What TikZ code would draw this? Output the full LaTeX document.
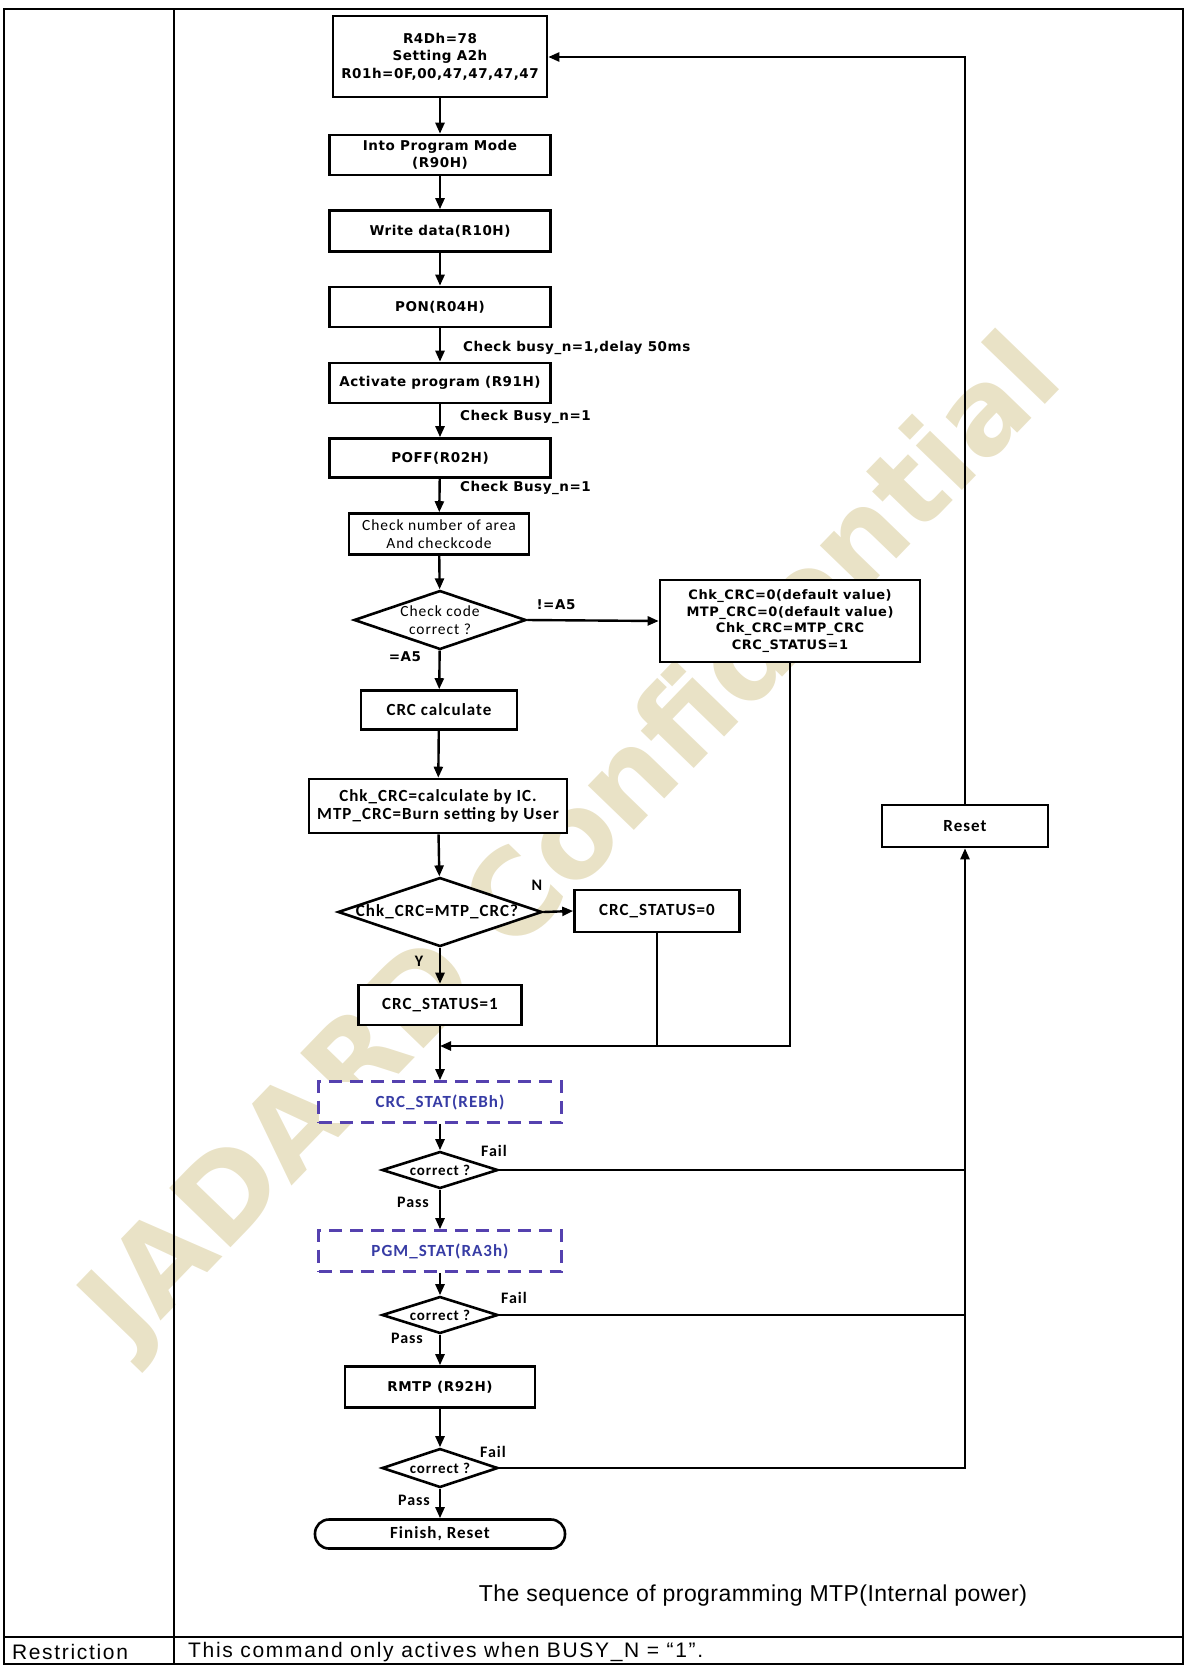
\documentclass[tikz,border=0pt]{standalone}
\usepackage{fontspec}
\setmainfont{DejaVu Sans}
\newfontfamily\dvs[LetterSpace=4]{DejaVu Sans}
\newfontfamily\calib[LetterSpace=6]{Carlito}
\newfontfamily\libsans[LetterSpace=8]{Liberation Sans}
\newfontfamily\libcap[LetterSpace=2]{Liberation Sans}
\usetikzlibrary{shapes.geometric,arrows.meta}
\definecolor{dashc}{RGB}{85,65,175}
\definecolor{dtext}{RGB}{55,60,165}
\definecolor{wm}{RGB}{233,226,198}
\tikzset{
  box/.style={draw, line width=2.6pt, fill=white, inner sep=0pt, align=center,
    font=\dvs\bfseries\fontsize{13.5}{17.5}\selectfont},
  cbox/.style={box, font=\calib\bfseries\fontsize{17}{18}\selectfont},
  crbox/.style={box, font=\calib\fontsize{15.5}{18}\selectfont},
  dbox/.style={cbox, draw=dashc, text=dtext, dash pattern=on 13pt off 8pt},
  dia/.style={draw, diamond, line width=2.6pt, fill=white, inner sep=0pt},
  dtxt/.style={inner sep=0pt, align=center, font=\calib\bfseries\fontsize{15}{18}\selectfont},
  arr/.style={line width=2.4pt, -{Triangle[length=11pt,width=9pt]}},
  ln/.style={line width=2.4pt},
  lab/.style={inner sep=0pt, font=\dvs\bfseries\fontsize{13.5}{15}\selectfont},
  clab/.style={inner sep=0pt, font=\calib\bfseries\fontsize{16}{16}\selectfont},
  tbl/.style={line width=1.8pt}
}
\begin{document}
\begin{tikzpicture}[x=1pt,y=-1pt]
\useasboundingbox (0,0) rectangle (1192,1666);
% watermark
\node[rotate=46, text=wm, font=\bfseries\fontsize{117}{117}\selectfont] (wmk) at (575,845) {JADARD Confidential};
% table
\draw[tbl] (4,9) rectangle (1183,1664);
\draw[tbl] (174,9) -- (174,1664);
\draw[tbl] (4,1637) -- (1183,1637);
\node[font=\libsans\fontsize{21}{22}\selectfont, inner sep=0pt] (rtitle) at (70,1652) {Restriction};
\node[font=\libsans\fontsize{21}{22}\selectfont, inner sep=0pt, anchor=west] (rtext) at (188,1652) {This command only actives when BUSY\_N = “1”.};
\node[font=\libcap\fontsize{23}{24}\selectfont, inner sep=0pt] (cap) at (753,1596) {The sequence of programming MTP(Internal power)};
% boxes
\node[box, minimum width=214pt, minimum height=81pt] (b1) at (440,56.5) {R4Dh=78\\Setting A2h\\R01h=0F,00,47,47,47,47};
\node[box, minimum width=221pt, minimum height=40pt] (b2) at (440,155) {Into Program Mode\\(R90H)};
\node[box, minimum width=221pt, minimum height=41pt] (b3) at (440,231) {Write data(R10H)};
\node[box, minimum width=221pt, minimum height=40pt] (b4) at (440,307) {PON(R04H)};
\node[box, minimum width=221pt, minimum height=40pt] (b5) at (440,383) {Activate program (R91H)};
\node[box, minimum width=221pt, minimum height=39pt] (b6) at (440,458) {POFF(R02H)};
\node[crbox, minimum width=180pt, minimum height=41pt] (b7) at (439,534) {Check number of area\\And checkcode};
\node[dia, minimum width=172pt, minimum height=59pt] (d1) at (440,620) {};
\node[dtxt, font=\calib\fontsize{15.5}{18.5}\selectfont] (d1t) at (440,620) {Check code\\correct ?};
\node[box, minimum width=260pt, minimum height=82pt, font=\dvs\bfseries\fontsize{13}{16.5}\selectfont] (b8) at (790,621) {Chk\_CRC=0(default value)\\MTP\_CRC=0(default value)\\Chk\_CRC=MTP\_CRC\\CRC\_STATUS=1};
\node[cbox, minimum width=156pt, minimum height=39pt] (b9) at (439,710) {CRC calculate};
\node[cbox, minimum width=258pt, minimum height=54pt] (b10) at (438,806) {Chk\_CRC=calculate by IC.\\MTP\_CRC=Burn setting by User};
\node[dia, minimum width=204pt, minimum height=69pt] (d2) at (440,912) {};
\node[dtxt, font=\calib\bfseries\fontsize{17}{18}\selectfont] (d2t) at (437,912) {Chk\_CRC=MTP\_CRC?};
\node[cbox, minimum width=165pt, minimum height=42pt] (b11) at (657,911) {CRC\_STATUS=0};
\node[cbox, minimum width=163pt, minimum height=40pt] (b12) at (440,1005) {CRC\_STATUS=1};
\node[dbox, minimum width=243pt, minimum height=41pt] (s1) at (440,1102) {CRC\_STAT(REBh)};
\node[dia, minimum width=116pt, minimum height=37pt] (d3) at (440,1170) {};
\node[dtxt] (d3t) at (440,1170) {correct ?};
\node[dbox, minimum width=243pt, minimum height=41pt] (s2) at (440,1251) {PGM\_STAT(RA3h)};
\node[dia, minimum width=116pt, minimum height=37pt] (d4) at (440,1315) {};
\node[dtxt] (d4t) at (440,1315) {correct ?};
\node[box, minimum width=190pt, minimum height=41pt] (b13) at (440,1387) {RMTP (R92H)};
\node[dia, minimum width=116pt, minimum height=39pt] (d5) at (440,1468) {};
\node[dtxt] (d5t) at (440,1468) {correct ?};
\node[cbox, rounded corners=14pt, minimum width=250pt, minimum height=29pt] (fin) at (440,1534) {Finish, Reset};
\node[cbox, minimum width=166pt, minimum height=42pt] (rst) at (965,826) {Reset};
\coordinate (m) at (440,1046);
\coordinate (rl) at (965,57);
% connectors
\draw[arr] (b1) -- (b2);
\draw[arr] (b2) -- (b3);
\draw[arr] (b3) -- (b4);
\draw[arr] (b4) -- (b5);
\draw[arr] (b5) -- (b6);
\draw[arr] (b6) -- (b7);
\draw[arr] (b7) -- (d1);
\draw[arr] (d1) -- (b9);
\draw[arr] (d1.east) -- (b8.west);
\draw[arr] (b9) -- (b10);
\draw[arr] (b10) -- (d2);
\draw[arr] (d2.east) -- (b11.west);
\draw[arr] (d2) -- (b12);
\draw[arr] (b12) -- (s1);
\draw[ln] (b11.south) -- (b11.south |- m);
\draw[arr] (b8.south) -- (b8.south |- m) -- (m);
\draw[arr] (s1) -- (d3);
\draw[arr] (d3) -- (s2);
\draw[arr] (s2) -- (d4);
\draw[arr] (d4) -- (b13);
\draw[arr] (b13) -- (d5);
\draw[arr] (d5) -- (fin);
\draw[ln] (d3.east) -- (d3.east -| rst.south);
\draw[ln] (d4.east) -- (d4.east -| rst.south);
\draw[arr] (d5.east) -- (d5.east -| rst.south) -- (rst.south);
\draw[arr] (rst.north) -- (rl) -- (rl -| b1.east);
% labels
\node[lab, anchor=west] (l1) at (463,348) {Check busy\_n=1,delay 50ms};
\node[lab, anchor=west] (l2) at (460,417) {Check Busy\_n=1};
\node[lab, anchor=west] (l3) at (460,488) {Check Busy\_n=1};
\node[lab] (ne) at (556,605) {!=A5};
\node[lab] (eq) at (405,657) {=A5};
\node[clab] (nn) at (537,885) {N};
\node[clab] (yy) at (419,961) {Y};
\node[clab] (f3) at (494,1151) {Fail};
\node[clab] (p3) at (413,1202) {Pass};
\node[clab] (f4) at (514,1298) {Fail};
\node[clab] (p4) at (407,1338) {Pass};
\node[clab] (f5) at (493,1452) {Fail};
\node[clab] (p5) at (414,1500) {Pass};
\end{tikzpicture}
\end{document}
